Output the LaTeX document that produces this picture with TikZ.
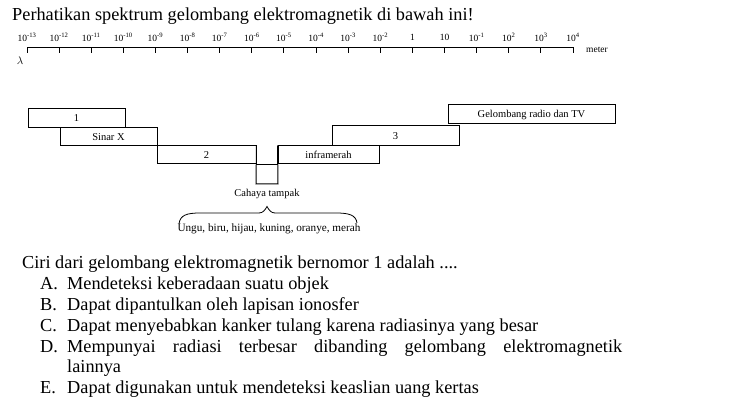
\documentclass[tikz,border=0pt]{standalone}
\usepackage{fontspec}
\setmainfont{Liberation Serif}
\begin{document}
\begin{tikzpicture}[x=1pt,y=-1pt,
  ln/.style={line width=1pt},
  bx/.style={draw,line width=1pt,inner sep=0pt,anchor=center,font=\fontsize{10.5}{11}\selectfont},
  lbl/.style={inner sep=0pt,font=\fontsize{10.5}{11}\selectfont},
  sc/.style={inner sep=0pt,font=\fontsize{9.5}{10}\selectfont},
  qt/.style={inner sep=0pt,anchor=base west,font=\fontsize{18.3}{20}\selectfont}]
\useasboundingbox (0,0) rectangle (740,406);
% title
\node[qt] (title) at (12,21) {Perhatikan spektrum gelombang elektromagnetik di bawah ini!};
% scale
\coordinate (ax0) at (27,47.5);
\coordinate (ax1) at (573,47.5);
\draw[ln] (ax0) -- (ax1);
\foreach \lab [count=\i from 0] in {10\textsuperscript{-13},10\textsuperscript{-12},10\textsuperscript{-11},10\textsuperscript{-10},10\textsuperscript{-9},10\textsuperscript{-8},10\textsuperscript{-7},10\textsuperscript{-6},10\textsuperscript{-5},10\textsuperscript{-4},10\textsuperscript{-3},10\textsuperscript{-2},1,10,10\textsuperscript{-1},10\textsuperscript{2},10\textsuperscript{3},10\textsuperscript{4}}{
  \coordinate (t\i) at ({27+32.12*\i},47.5);
  \coordinate (tb\i) at ({27+32.12*\i},53);
  \draw[ln] (t\i) -- (tb\i);
  \node[sc] (s\i) at ({27+32.12*\i},37) {\lab};
}
\node[sc,font=\fontsize{9.5}{10}\selectfont] (meter) at (597,50) {meter};
\node[inner sep=0pt,font=\fontsize{11}{12}\selectfont] (lam) at (20,61) {$\lambda$};
% boxes
\node[bx,minimum width=97,minimum height=19] (b1) at (76.5,118.5) {1};
\node[bx,minimum width=97,minimum height=18] (bx) at (108.5,137) {Sinar X};
\node[bx,minimum width=99,minimum height=18] (b2) at (206.5,155) {2};
\node[bx,minimum width=101,minimum height=18] (inf) at (328.5,155) {inframerah};
\node[bx,minimum width=127,minimum height=20] (b3) at (395.5,136) {3};
\node[bx,minimum width=167,minimum height=19] (radio) at (531.5,114.5) {Gelombang radio dan TV};
% visible light
\coordinate (cbl) at (256,184);
\coordinate (cbr) at (278,184);
\draw[ln] (b2.north east) -- (cbl) -- (cbr) -- (inf.north west);
\draw[ln] (b2.south east) -- (inf.south west);
\node[lbl] (cahaya) at (267,194) {Cahaya tampak};
% brace
\coordinate (brL) at (179,224);
\coordinate (brT) at (267,206.5);
\coordinate (brR) at (357,223);
\draw[line width=0.8pt] (brL) .. controls (180,215) and (187,213) .. (200,213) -- (259,213) .. controls (263,213) and (265,210) .. (brT) .. controls (269,210) and (271,213) .. (275,213) -- (336,213) .. controls (349,213) and (356,215) .. (brR);
\node[lbl,font=\fontsize{11.2}{12}\selectfont] (ungu) at (269,228.5) {Ungu, biru, hijau, kuning, oranye, merah};
% question
\node[qt] (q) at (22,269) {Ciri dari gelombang elektromagnetik bernomor 1 adalah ....};
\node[qt] (la) at (40,290) {A.};
\node[qt] (oa) at (67,290) {Mendeteksi keberadaan suatu objek};
\node[qt] (lb) at (40,311) {B.};
\node[qt] (ob) at (67,311) {Dapat dipantulkan oleh lapisan ionosfer};
\node[qt] (lc) at (40,332) {C.};
\node[qt] (oc) at (67,332) {Dapat menyebabkan kanker tulang karena radiasinya yang besar};
\node[qt] (ld) at (40,353) {D.};
\node[qt] (od) at (67,353) {\makebox[555pt][s]{Mempunyai radiasi terbesar dibanding gelombang elektromagnetik}};
\node[qt] (od2) at (67,373) {lainnya};
\node[qt] (le) at (40,394) {E.};
\node[qt] (oe) at (67,394) {Dapat digunakan untuk mendeteksi keaslian uang kertas};
\end{tikzpicture}
\end{document}
